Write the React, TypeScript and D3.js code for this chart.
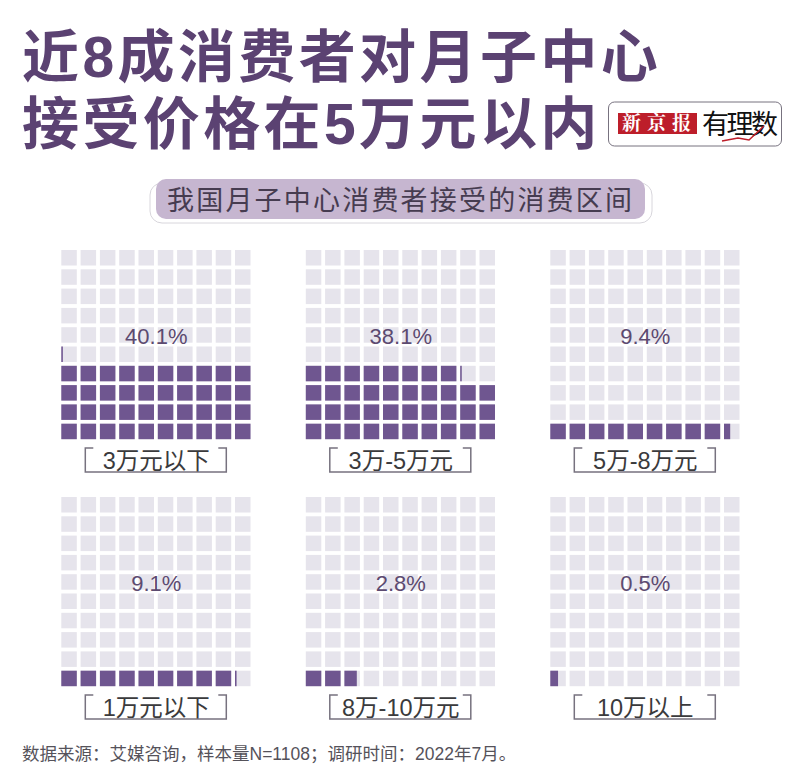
import React from 'react';
import * as d3 from 'd3';

const titleLines = ['近8成消费者对月子中心', '接受价格在5万元以内'];
const subtitle = '我国月子中心消费者接受的消费区间';
const categories = ['3万元以下', '3万-5万元', '5万-8万元', '1万元以下', '8万-10万元', '10万以上'];
const shares = [40.1, 38.1, 9.4, 9.1, 2.8, 0.5];
const source = '数据来源：艾媒咨询，样本量N=1108；调研时间：2022年7月。';

const CJK = '"Noto Sans CJK SC", "Noto Sans", sans-serif';
const LATIN = '"Liberation Sans", "Noto Sans CJK SC", sans-serif';

const width = 800;
const height = 779;
const gridSize = 190;
const cellSize = 15.5;
const step = 19.3;

const panelX = d3.scalePoint<number>().domain([0, 1, 2]).range([61.3, 550.3]);
const panelY = d3.scalePoint<number>().domain([0, 1]).range([250, 497]);
const idx = d3.range(10);
const colX = d3.scaleLinear().domain([0, 9]).range([0, 9 * step]);
const rowY = d3.scaleLinear().domain([0, 9]).range([9 * step, 0]);
const fillW = d3.scaleLinear().domain([0, 1]).range([0, cellSize]);
const fmt = d3.format('.1f');

function Waffle({ i }: { i: number }) {
  const x0 = panelX(i % 3) as number;
  const y0 = panelY(Math.floor(i / 3)) as number;
  const value = shares[i];
  const cx = x0 + gridSize / 2;
  const bl = x0 + 24;
  const br = x0 + 165;
  const bt = y0 + 198;
  const bb = y0 + 222;
  return (
    <g>
      {idx.map(r =>
        idx.map(c => {
          const n = r * 10 + c;
          const frac = Math.max(0, Math.min(1, value - n));
          return (
            <g key={n}>
              <rect x={x0 + colX(c)} y={y0 + rowY(r)} width={cellSize} height={cellSize} fill="#e6e4ec" />
              {frac > 0 && (
                <rect x={x0 + colX(c)} y={y0 + rowY(r)} width={fillW(frac)} height={cellSize} fill="#6f5690" />
              )}
            </g>
          );
        })
      )}
      <text x={cx} y={y0 + 94} textAnchor="middle" fontFamily={LATIN} fontSize={22} fill="#5c4a70">
        {fmt(value)}%
      </text>
      <path
        d={`M${bl + 8},${bt}H${bl}V${bb}H${br}V${bt}H${br - 8}`}
        fill="none"
        stroke="#77727f"
        strokeWidth={1.5}
      />
      <text x={cx} y={y0 + 219} textAnchor="middle" fontFamily={LATIN} fontSize={23.5} fill="#3a3a3c">
        {categories[i]}
      </text>
    </g>
  );
}

export default function App() {
  return (
    <svg
      width={width}
      height={height}
      viewBox={`0 0 ${width} ${height}`}
      style={{ position: 'absolute', left: 0, top: 0, background: '#fff' }}
    >
      {titleLines.map((t, i) => (
        <text
          key={t}
          x={22}
          y={77 + i * 67}
          fontFamily={LATIN}
          fontWeight={700}
          fontSize={57}
          letterSpacing={3.4}
          fill="#5b4272"
        >
          {t}
        </text>
      ))}

      {/* logo */}
      <rect x={608.5} y={102} width={173} height={44} rx={6} fill="#fff" stroke="#77727f" strokeWidth={1} />
      <rect x={618} y={113} width={79} height={21} fill="#bd1e2a" />
      <text x={622} y={130} fontFamily='"Noto Serif CJK SC", "Noto Sans CJK SC", serif' fontWeight={700} fontSize={19} letterSpacing={6} fill="#fff">
        新京报
      </text>
      <text x={702} y={134} fontFamily={CJK} fontSize={27} letterSpacing={-2.5} fill="#111">
        有理数
      </text>
      <path d="M722,141L738,138L749,140L764,126" fill="none" stroke="#bd1e2a" strokeWidth={1.5} />

      {/* subtitle pill */}
      <rect x={150} y={183} width={502} height={40} rx={12} fill="#fff" stroke="#d8d6dc" strokeWidth={1} />
      <rect x={156} y={179} width={489} height={40} rx={10} fill="#c6b6d0" />
      <text x={167} y={209.5} fontFamily={CJK} fontSize={27} letterSpacing={2.2} fill="#463c50">
        {subtitle}
      </text>

      {shares.map((_, i) => (
        <Waffle key={categories[i]} i={i} />
      ))}

      <text x={22} y={760} fontFamily={LATIN} fontSize={17.5} fill="#55525a">
        {source}
      </text>
    </svg>
  );
}
